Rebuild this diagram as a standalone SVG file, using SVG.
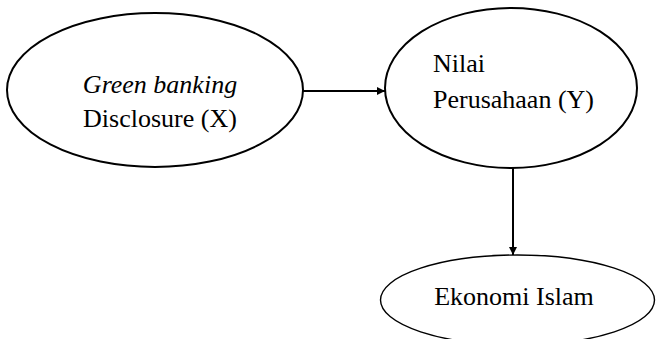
<svg xmlns="http://www.w3.org/2000/svg" width="656" height="339" viewBox="0 0 656 339">
<style>
.n{fill:#fff;stroke:#000;stroke-width:2}
.t{font-size:26px;fill:#000}
.c{stroke:#000;stroke-width:2;fill:none}
</style>
<defs>
<marker id="ah" viewBox="0 0 10 10" refX="10" refY="5" markerWidth="4.2" markerHeight="4" orient="auto" markerUnits="strokeWidth">
<path d="M0,0 L10,5 L0,10 z" fill="#000"/>
</marker>
</defs>
<rect width="656" height="339" fill="#fff"/>
<g id="connectors">
<line class="c" x1="303" y1="91" x2="385" y2="91" marker-end="url(#ah)"/>
<line class="c" x1="513" y1="167" x2="513" y2="255" marker-end="url(#ah)"/>
</g>
<g font-family="'Liberation Serif', serif">
<g id="node-x">
<ellipse class="n" cx="155" cy="90" rx="148" ry="77"/>
<text class="t" x="160" y="93" text-anchor="middle" font-style="italic">Green banking</text>
<text class="t" x="160" y="127" text-anchor="middle">Disclosure (X)</text>
</g>
<g id="node-y">
<ellipse class="n" cx="511" cy="88" rx="126" ry="80"/>
<text class="t" x="433" y="72">Nilai</text>
<text class="t" x="433" y="108">Perusahaan (Y)</text>
</g>
<g id="node-islam">
<ellipse class="n" cx="517.5" cy="300" rx="137" ry="45" style="stroke-width:1.4"/>
<text class="t" x="514" y="305" text-anchor="middle">Ekonomi Islam</text>
</g>
</g>
</svg>
